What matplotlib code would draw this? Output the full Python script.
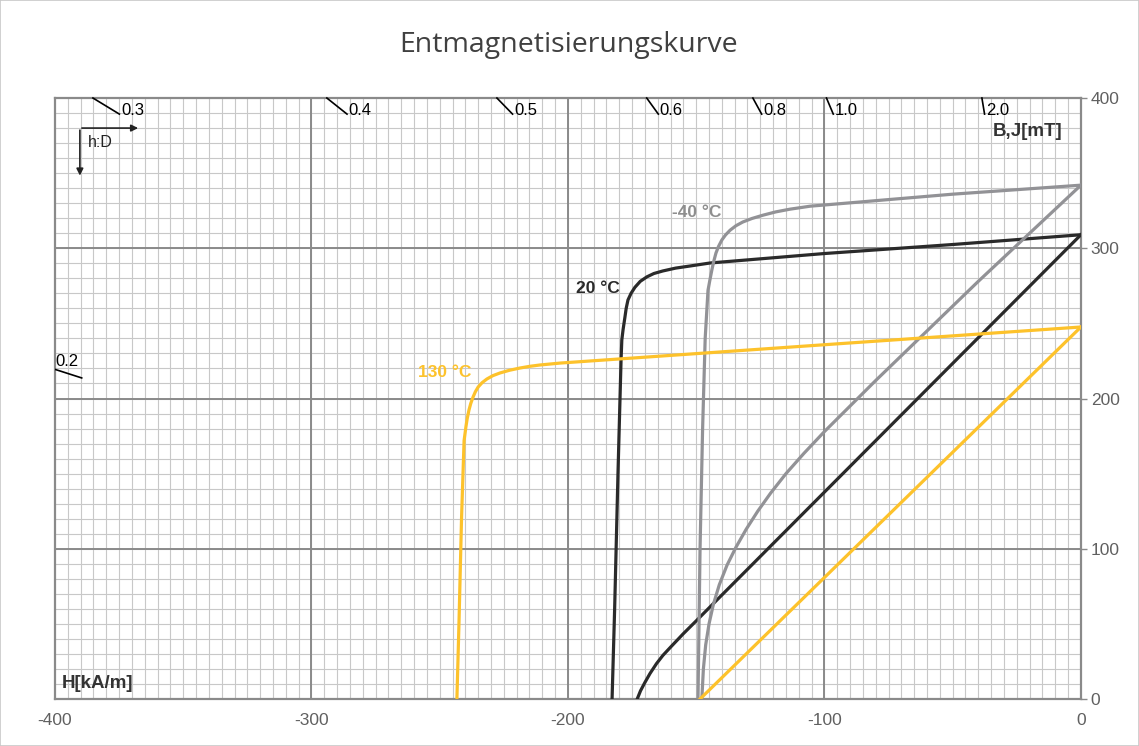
import numpy as np
import matplotlib
matplotlib.use('Agg')
import matplotlib.pyplot as plt
from matplotlib.patches import Rectangle

# шрифты
plt.rcParams['font.family'] = 'Liberation Sans'
plt.rcParams['axes.unicode_minus'] = False
plt.rcParams['xtick.labelsize'] = 12.5
plt.rcParams['ytick.labelsize'] = 12.5

# --- данные: J-кривые (собственная намагниченность) ---
j20_h = [0, -50, -100, -144.6, -152.4, -158, -163, -166.5, -169.2, -171.8, -173.9, -175.4, -176.6, -177.3,
         -177.8, -178.5, -179, -179.3, -180.5, -181.8, -182.8]
j20_b = [309, 302.5, 296.5, 290.2, 288.2, 286.8, 284.9, 283.2, 281, 278, 274, 270, 265.6, 260,
         254, 246, 239, 225.6, 150, 60, 0]

jm40_h = [0, -50, -105.6, -113.5, -119, -124, -128.3, -131.8, -134.5, -136.8, -138.6, -140, -141.3, -142.3,
          -143.2, -143.9, -144.7, -145.4, -146.5, -147.5, -148.5, -149.3]
jm40_b = [342, 336, 328, 326, 324.2, 322, 319.8, 317.5, 315, 312, 308.8, 305.5, 301.2, 296.8,
          291, 285.5, 278.5, 272, 240, 180, 100, 0]

j130_h = [0, -100, -203, -211, -215, -218.7, -222.8, -226.5, -229.3, -231.6, -233.5, -235, -236.1, -237,
          -237.9, -238.6, -239.3, -239.8, -240.5, -241.5, -242.5, -243.3]
j130_b = [247.6, 235.8, 223.6, 222.3, 221.4, 220.3, 218.8, 217, 215.2, 213, 210.5, 207.7, 204.5, 201,
          196.7, 192.3, 186.5, 181, 172, 120, 50, 0]

# --- B-кривые ---
b20_h = [0, -140, -150, -155, -160, -163, -165.5, -168, -170, -171.7, -173]
b20_b = [309, 69.2, 52, 43.5, 34.5, 29, 23.5, 17, 11, 5.5, 0]

bm40_h = [0, -40, -80, -100, -108, -115, -121, -126, -130.5, -134.5, -138, -141, -143.3, -145, -146.3, -147.2, -147.8]
bm40_b = [342, 278, 212, 178, 163.5, 150, 137, 125, 113, 101, 89, 76, 63, 50, 36, 20, 0]

b130_h = [0, -148.5]
b130_b = [247.6, 0]

# линии нагрузки h:D (наклон |B/H|, мТл на кА/м)
hd_labels = ['0.2', '0.3', '0.4', '0.5', '0.6', '0.8', '1.0', '2.0']
hd_slopes = [0.5485, 1.0384, 1.3605, 1.7567, 2.3627, 3.1274, 4.032, 10.363]

x_ticks = [-400, -300, -200, -100, 0]
y_ticks = [0, 100, 200, 300, 400]

c_black = '#2a2a2a'
c_gray = '#929296'
c_yellow = '#fdc22b'
c_grid = '#c8c8c8'
c_major = '#8a8a8a'

fig = plt.figure(figsize=(11.39, 7.46), dpi=100)
fig.patches.append(Rectangle((0, 0), 1, 1, transform=fig.transFigure,
                             fill=False, edgecolor='#c8c8c8', linewidth=1.2))
ax = fig.add_axes([0.0483, 0.063, 0.9007, 0.8056])

ax.set_xlim(-400, 0)
ax.set_ylim(0, 400)

# сетка
for xv in np.arange(-395, 0, 5):
    ax.axvline(xv, color=c_grid, linewidth=0.8, zorder=0)
for yv in np.arange(10, 400, 10):
    ax.axhline(yv, color=c_grid, linewidth=0.8, zorder=0)
for xv in x_ticks[1:-1]:
    ax.axvline(xv, color=c_major, linewidth=1.4, zorder=1)
for yv in y_ticks[1:-1]:
    ax.axhline(yv, color=c_major, linewidth=1.4, zorder=1)

for sp in ax.spines.values():
    sp.set_color(c_major)
    sp.set_linewidth(1.6)

ax.set_xticks(x_ticks)
ax.set_yticks(y_ticks)
ax.yaxis.tick_right()
ax.tick_params(axis='x', length=0, pad=10, colors='#606060')
ax.tick_params(axis='y', length=4, width=1, pad=3, colors='#606060', color=c_major)
for lab in ax.get_yticklabels():
    lab.set_horizontalalignment('left')

# кривые
lw = 2.3
ax.plot(j20_h, j20_b, color=c_black, linewidth=lw, zorder=3, solid_joinstyle='round')
ax.plot(b20_h, b20_b, color=c_black, linewidth=lw, zorder=3, solid_joinstyle='round')
ax.plot(jm40_h, jm40_b, color=c_gray, linewidth=lw, zorder=4, solid_joinstyle='round')
ax.plot(bm40_h, bm40_b, color=c_gray, linewidth=lw, zorder=4, solid_joinstyle='round')
ax.plot(j130_h, j130_b, color=c_yellow, linewidth=lw, zorder=5, solid_joinstyle='round')
ax.plot(b130_h, b130_b, color=c_yellow, linewidth=lw, zorder=5, solid_joinstyle='round')

# метки линий нагрузки
for lab, s in zip(hd_labels, hd_slopes):
    if s * 400 >= 400:
        h0 = -400 / s
        h1 = -389.3 / s
        ax.plot([h0, h1], [400, 389.3], color='black', linewidth=1.2, zorder=6, clip_on=False)
        ax.text(h1 + 0.6, 391.5, lab, fontsize=12, ha='left', va='center', zorder=6)
    else:
        b0 = 400 * s
        b1 = 389.6 * s
        ax.plot([-400, -389.6], [b0, b1], color='black', linewidth=1.2, zorder=6)
        ax.text(-399.8, b0 + 5, lab, fontsize=12, ha='left', va='center', zorder=6)

# стрелки h:D
ax.annotate('', xy=(-366.5, 380), xytext=(-390.6, 380),
            arrowprops=dict(arrowstyle='-|>', color='#222222', lw=1.2, mutation_scale=10), zorder=6)
ax.annotate('', xy=(-390.3, 346.5), xytext=(-390.3, 380.5),
            arrowprops=dict(arrowstyle='-|>', color='#222222', lw=1.2, mutation_scale=10), zorder=6)
ax.text(-387.3, 370.5, 'h:D', fontsize=11.5, ha='left', va='center', color='#222222', zorder=6)

# подписи
ax.text(-159.5, 324, '-40 °C', fontsize=12.5, fontweight='bold', color='#8e8e8e', ha='left', va='center', zorder=7)
ax.text(-196.9, 273.5, '20 °C', fontsize=12.5, fontweight='bold', color=c_black, ha='left', va='center', zorder=7)
ax.text(-258.5, 217.6, '130 °C', fontsize=12.5, fontweight='bold', color=c_yellow, ha='left', va='center', zorder=7)
ax.text(-7.4, 378, 'B,J[mT]', fontsize=13.5, fontweight='bold', color='#333333', ha='right', va='center', zorder=7)
ax.text(-397.3, 10, 'H[kA/m]', fontsize=13.5, fontweight='bold', color='#333333', ha='left', va='center', zorder=7)

fig.text(0.499, 0.94, 'Entmagnetisierungskurve', fontsize=20.5, family='Open Sans',
         color='#404040', ha='center', va='center')

fig.savefig('out.png', dpi=100)
